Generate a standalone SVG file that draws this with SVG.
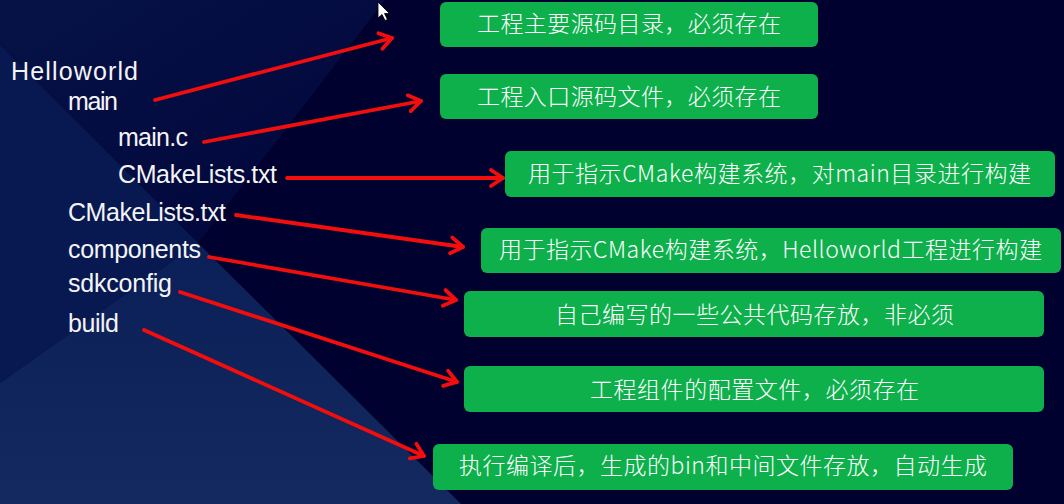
<svg xmlns="http://www.w3.org/2000/svg" width="1064" height="504" viewBox="0 0 1064 504">
<defs>
<linearGradient id="gC" x1="0" y1="0" x2="0" y2="1">
<stop offset="0" stop-color="#0b1f58"/>
<stop offset="1" stop-color="#14295f"/>
</linearGradient>
<linearGradient id="gA" x1="0" y1="0" x2="1" y2="1">
<stop offset="0" stop-color="#061246"/>
<stop offset="1" stop-color="#01053a"/>
</linearGradient>
<marker id="ah" markerUnits="userSpaceOnUse" markerWidth="24" markerHeight="24" viewBox="0 0 24 24" refX="16" refY="12" orient="auto">
<path d="M4,4 L16,12 L4,20" fill="none" stroke="#f30e0e" stroke-width="3.8" stroke-linecap="round" stroke-linejoin="round"/>
</marker>
<style>
.lbl{font-family:"Liberation Sans","Noto Sans",Arial,sans-serif;font-size:25px;fill:#f4f4f6}
.box{fill:#0db04b}
.bt{font-family:"Noto Sans CJK SC","Noto Sans",sans-serif;font-size:23px;font-weight:300;fill:#ffffff}
.arr{stroke:#f30e0e;stroke-width:3.8;fill:none;stroke-linecap:round;marker-end:url(#ah)}
</style>
</defs>
<g id="background">
<rect x="0" y="0" width="1064" height="504" fill="#00012e"/>
<polygon points="0,0 385,0 198,243 0,45" fill="url(#gA)"/>
<polygon points="0,45 198,243 0,383" fill="#071950"/>
<polygon points="0,383 198,243 461,504 0,504" fill="url(#gC)"/>
<polygon points="378,2 378,18 382,14.5 385,20.5 387.5,19.5 384.5,13.5 389.5,13.5" fill="#ffffff" stroke="#000000" stroke-width="0.8"/>
</g>
<g id="tree">
<text id="t-helloworld" class="lbl" x="11" y="80" textLength="127">Helloworld</text>
<text id="t-main" class="lbl" x="68" y="110" textLength="50">main</text>
<text id="t-mainc" class="lbl" x="118" y="146" textLength="70">main.c</text>
<text id="t-cmake-main" class="lbl" x="118" y="183" textLength="159">CMakeLists.txt</text>
<text id="t-cmake-root" class="lbl" x="68" y="221" textLength="158">CMakeLists.txt</text>
<text id="t-components" class="lbl" x="68" y="258" textLength="133">components</text>
<text id="t-sdkconfig" class="lbl" x="68" y="292" textLength="104">sdkconfig</text>
<text id="t-build" class="lbl" x="68" y="332" textLength="51">build</text>
</g>
<g id="connectors">
<line class="arr" x1="155" y1="100" x2="392" y2="38"/>
<line class="arr" x1="204" y1="142" x2="421" y2="101"/>
<line class="arr" x1="287" y1="178" x2="503" y2="178"/>
<line class="arr" x1="236" y1="215" x2="463" y2="247"/>
<line class="arr" x1="209" y1="257" x2="456" y2="300"/>
<line class="arr" x1="180" y1="292" x2="457" y2="382"/>
<line class="arr" x1="144" y1="330" x2="424" y2="456"/>
</g>
<g id="n1"><rect class="box" x="440" y="2" width="378" height="45" rx="6"/><text class="bt" x="477" y="32" textLength="304">工程主要源码目录，必须存在</text></g>
<g id="n2"><rect class="box" x="440" y="74" width="378" height="45" rx="6"/><text class="bt" x="477" y="105" textLength="304">工程入口源码文件，必须存在</text></g>
<g id="n3"><rect class="box" x="505" y="151" width="550" height="46" rx="6"/><text class="bt" x="528" y="182" textLength="503">用于指示CMake构建系统，对main目录进行构建</text></g>
<g id="n4"><rect class="box" x="481" y="228" width="580" height="45" rx="6"/><text class="bt" x="499" y="258" textLength="543">用于指示CMake构建系统，Helloworld工程进行构建</text></g>
<g id="n5"><rect class="box" x="464" y="291" width="580" height="46" rx="6"/><text class="bt" x="555" y="323" textLength="399">自己编写的一些公共代码存放，非必须</text></g>
<g id="n6"><rect class="box" x="464" y="366" width="580" height="46" rx="6"/><text class="bt" x="590" y="398" textLength="329">工程组件的配置文件，必须存在</text></g>
<g id="n7"><rect class="box" x="433" y="444" width="580" height="46" rx="6"/><text class="bt" x="459" y="474" textLength="528">执行编译后，生成的bin和中间文件存放，自动生成</text></g>
</svg>
